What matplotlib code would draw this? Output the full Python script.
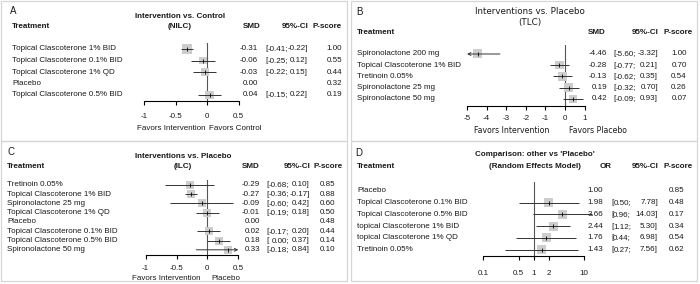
import numpy as np
import matplotlib
matplotlib.use('Agg')
import matplotlib.pyplot as plt
import matplotlib.patches as mpatches
from matplotlib.transforms import blended_transform_factory

plt.rcParams['font.family'] = ['Liberation Sans', 'DejaVu Sans']
plt.rcParams['font.size'] = 5.8
plt.rcParams['axes.unicode_minus'] = False

W, H = 700, 284
nan = np.nan

# A: NILC, intervention vs control
a_labels = ['Topical Clascoterone 1% BID', 'Topical Clascoterone 0.1% BID',
            'Topical Clascoterone 1% QD', 'Placebo', 'Topical Clascoterone 0.5% BID']
a_smd = [-0.31, -0.06, -0.03, 0.00, 0.04]
a_lo = [-0.41, -0.25, -0.22, nan, -0.15]
a_hi = [-0.22, 0.12, 0.15, nan, 0.22]
a_pscore = [1.00, 0.55, 0.44, 0.32, 0.19]
a_weight = [1.0, 0.6, 0.6, 0.0, 0.65]

# B: TLC, interventions vs placebo
b_labels = ['Spironolactone 200 mg', 'Topical Clascoterone 1% BID', 'Tretinoin 0.05%',
            'Spironolactone 25 mg', 'Spironolactone 50 mg']
b_smd = [-4.46, -0.28, -0.13, 0.19, 0.42]
b_lo = [-5.60, -0.77, -0.62, -0.32, -0.09]
b_hi = [-3.32, 0.21, 0.35, 0.70, 0.93]
b_pscore = [1.00, 0.70, 0.54, 0.26, 0.07]
b_weight = [1.0, 0.9, 0.9, 0.9, 0.9]

# C: ILC, interventions vs placebo
c_labels = ['Tretinoin 0.05%', 'Topical Clascoterone 1% BID', 'Spironolactone 25 mg',
            'Topical Clascoterone 1% QD', 'Placebo', 'Topical Clascoterone 0.1% BID',
            'Topical Clascoterone 0.5% BID', 'Spironolactone 50 mg']
c_smd = [-0.29, -0.27, -0.09, -0.01, 0.00, 0.02, 0.18, 0.33]
c_lo = [-0.68, -0.36, -0.60, -0.19, nan, -0.17, 0.00, -0.18]
c_hi = [0.10, -0.17, 0.42, 0.18, nan, 0.20, 0.37, 0.84]
c_pscore = [0.85, 0.88, 0.60, 0.50, 0.48, 0.44, 0.14, 0.10]
c_weight = [1.0, 1.0, 1.0, 1.0, 0.0, 1.0, 1.0, 1.0]

# D: odds ratios vs placebo (random effects)
d_labels = ['Placebo', 'Topical Clascoterone 0.1% BID', 'Topical Clascoterone 0.5% BID',
            'topical Clascoterone 1% BID', 'topical Clascoterone 1% QD', 'Tretinoin 0.05%']
d_or = [1.00, 1.98, 3.66, 2.44, 1.76, 1.43]
d_lo = [nan, 0.50, 0.96, 1.12, 0.44, 0.27]
d_hi = [nan, 7.78, 14.03, 5.30, 6.98, 7.56]
d_pscore = [0.85, 0.48, 0.17, 0.34, 0.54, 0.62]
d_weight = [0.0, 1.0, 1.0, 1.0, 1.0, 1.0]

fig = plt.figure(figsize=(W / 100, H / 100), dpi=100)
renderer = fig.canvas.get_renderer()
TXT = '#1a1a1a'
LINE = '#333333'


def fx(px):
    return px / W


def fy(py):
    return 1 - py / H


def text_w(s):
    # width of a string in pixels at the default font
    t = fig.text(0, 0, s)
    w = t.get_window_extent(renderer).width
    t.remove()
    return w


def forest(labels, est, lo, hi, pscore, weight, lay, xticks, xticklabels, log=False, ref=0.0):
    x0, x1 = lay['xpx']
    ytop, yax = lay['ytop'], lay['yax']
    y0, dy = lay['row0'], lay['dy']
    ax = fig.add_axes([fx(x0), fy(yax), (x1 - x0) / W, (yax - ytop) / H])
    if log:
        ax.set_xscale('log')
    xmin, xmax = lay['xlim']
    ax.set_xlim(xmin, xmax)
    ax.set_ylim((yax - y0) / dy, (ytop - y0) / dy)
    ax.patch.set_visible(False)

    rows = np.arange(len(labels))
    est = np.asarray(est, float)
    w = np.asarray(weight, float)

    ax.axvline(ref, color='#555555', lw=0.8, zorder=1)

    arrow = dict(arrowstyle='->', lw=0.7, color=LINE, shrinkA=0, shrinkB=0, mutation_scale=5)
    for i in rows:
        if np.isnan(lo[i]):
            continue
        if lay['clip'] and lo[i] < xmin:
            ax.annotate('', xy=(xmin, i), xytext=(hi[i], i), arrowprops=arrow, zorder=3)
        elif lay['clip'] and hi[i] > xmax:
            ax.annotate('', xy=(xmax, i), xytext=(lo[i], i), arrowprops=arrow, zorder=3)
        else:
            ax.hlines(i, lo[i], hi[i], color=LINE, lw=0.7, zorder=3, clip_on=False)

    has = w > 0
    side = lay['box'] * np.sqrt(w[has]) * 0.72
    ax.scatter(est[has], rows[has], marker='s', s=side ** 2, color='#cdcdcd', lw=0, zorder=2)
    ax.plot(est[has], rows[has], ls='none', marker='|', ms=2.5, mew=0.6, color='k', zorder=4)

    for s in ('top', 'left', 'right'):
        ax.spines[s].set_visible(False)
    ax.spines['bottom'].set_linewidth(0.8)
    ax.set_yticks([])
    ax.set_xticks(xticks)
    ax.set_xticklabels(xticklabels)
    ax.minorticks_off()
    ax.tick_params(axis='x', length=3.2, width=0.8, pad=lay['pad'], labelsize=5.8,
                   labelcolor=TXT)

    tr = blended_transform_factory(fig.transFigure, ax.transData)
    brk = lay['semi'] - text_w(lay['lotpl'])
    for i in rows:
        ax.text(fx(lay['lab']), i, labels[i], transform=tr, ha='left', va='center', color=TXT)
        ax.text(fx(lay['est']), i, f'{est[i]:.2f}', transform=tr, ha='right', va='center', color=TXT)
        if not np.isnan(lo[i]):
            ax.text(fx(brk), i, '[', transform=tr, ha='right', va='center', color=TXT)
            ax.text(fx(lay['semi']), i, f'{lo[i]:.2f};', transform=tr, ha='right', va='center', color=TXT)
            ax.text(fx(lay['end']), i, f'{hi[i]:.2f}]', transform=tr, ha='right', va='center', color=TXT)
        ax.text(fx(lay['p']), i, f'{pscore[i]:.2f}', transform=tr, ha=lay['pha'], va='center', color=TXT)
    return ax


def headers(lay, letter, letter_xy, title, title_x, title_ys, title_kw, est_name):
    fig.text(fx(letter_xy[0]), fy(letter_xy[1]), letter, fontsize=7, ha='left', va='center', color=TXT)
    for line, ty in zip(title, title_ys):
        fig.text(fx(title_x), fy(ty), line, ha='center', va='center', color=TXT, **title_kw)
    hy = lay['hy']
    fig.text(fx(lay['lab']), fy(hy), 'Treatment', fontweight='bold', ha='left', va='center', color=TXT)
    fig.text(fx(lay['esth']), fy(hy), est_name, fontweight='bold', ha='center', va='center', color=TXT)
    fig.text(fx(lay['end']), fy(hy), '95%-CI', fontweight='bold', ha='right', va='center', color=TXT)
    fig.text(fx(lay['ph']), fy(hy), 'P-score', fontweight='bold', ha='right', va='center', color=TXT)


# panel borders
for (bx, by) in [(1, 1), (351, 1), (1, 141), (351, 141)]:
    fig.add_artist(mpatches.Rectangle((fx(bx), fy(by + 140)), 346 / W, 140 / H,
                                      transform=fig.transFigure, fill=False,
                                      ec='#d6d6d6', lw=0.9))

bold = dict(fontweight='bold')

# ---- A
lay_a = dict(xpx=(144, 238.5), xlim=(-1, 0.5), ytop=43, yax=100.5, row0=49, dy=11.5,
             box=10, pad=5.8, clip=True, lab=12, est=258, semi=288, lotpl='-0.00;', end=308,
             p=342, pha='right', hy=27, esth=252, ph=342)
forest(a_labels, a_smd, a_lo, a_hi, a_pscore, a_weight, lay_a,
       [-1, -0.5, 0, 0.5], ['-1', '-0.5', '0', '0.5'])
headers(lay_a, 'A', (10, 11.5), ['Intervention vs. Control', '(NILC)'], 180, (16, 27), bold, 'SMD')
fig.text(fx(171), fy(129), 'Favors Intervention', ha='center', va='center', color=TXT)
fig.text(fx(235), fy(129), 'Favors Control', ha='center', va='center', color=TXT)

# ---- B
lay_b = dict(xpx=(467, 584.5), xlim=(-5, 1), ytop=45, yax=106, row0=54, dy=11.2,
             box=9, pad=3.2, clip=True, lab=357, est=607, semi=636, lotpl='-0.00;', end=658,
             p=679, pha='center', hy=33, esth=597, ph=693)
forest(b_labels, b_smd, b_lo, b_hi, b_pscore, b_weight, lay_b,
       [-5, -4, -3, -2, -1, 0, 1], ['-5', '-4', '-3', '-2', '-1', '0', '1'])
headers(lay_b, 'B', (356, 12), ['Interventions vs. Placebo', '(TLC)'], 530, (12, 22),
        dict(family='DejaVu Sans', fontsize=6.3), 'SMD')
fig.text(fx(512), fy(130), 'Favors Intervention', family='DejaVu Sans', fontsize=5.6,
         ha='center', va='center', color=TXT)
fig.text(fx(598), fy(130), 'Favors Placebo', family='DejaVu Sans', fontsize=5.6,
         ha='center', va='center', color=TXT)

# ---- C
lay_c = dict(xpx=(145.7, 238.3), xlim=(-1, 0.5), ytop=180, yax=255, row0=184.7, dy=9.3,
             box=8, pad=3.7, clip=True, lab=7, est=260, semi=289, lotpl='-0.00;', end=310,
             p=328, pha='center', hy=166, esth=251, ph=343)
forest(c_labels, c_smd, c_lo, c_hi, c_pscore, c_weight, lay_c,
       [-1, -0.5, 0, 0.5], ['-1', '-0.5', '0', '0.5'])
headers(lay_c, 'C', (7, 152), ['Interventions vs. Placebo', '(ILC)'], 183, (157, 166), bold, 'SMD')
fig.text(fx(166), fy(278), 'Favors Intervention', ha='center', va='center', color=TXT)
fig.text(fx(226), fy(278), 'Placebo', ha='center', va='center', color=TXT)

# ---- D
lay_d = dict(xpx=(483.3, 584.3), xlim=(0.1, 10), ytop=182, yax=256, row0=191, dy=11.7,
             box=9, pad=6.6, clip=False, lab=357, est=603, semi=631, lotpl='0.00;', end=658,
             p=684, pha='right', hy=166, esth=605.5, ph=693)
forest(d_labels, d_or, d_lo, d_hi, d_pscore, d_weight, lay_d,
       [0.1, 0.5, 1, 2, 10], ['0.1', '0.5', '1', '2', '10'], log=True, ref=1.0)
headers(lay_d, 'D', (355, 153), ["Comparison: other vs 'Placebo'", '(Random Effects Model)'],
        535, (155, 166), bold, 'OR')

fig.savefig('out.png', dpi=100)
